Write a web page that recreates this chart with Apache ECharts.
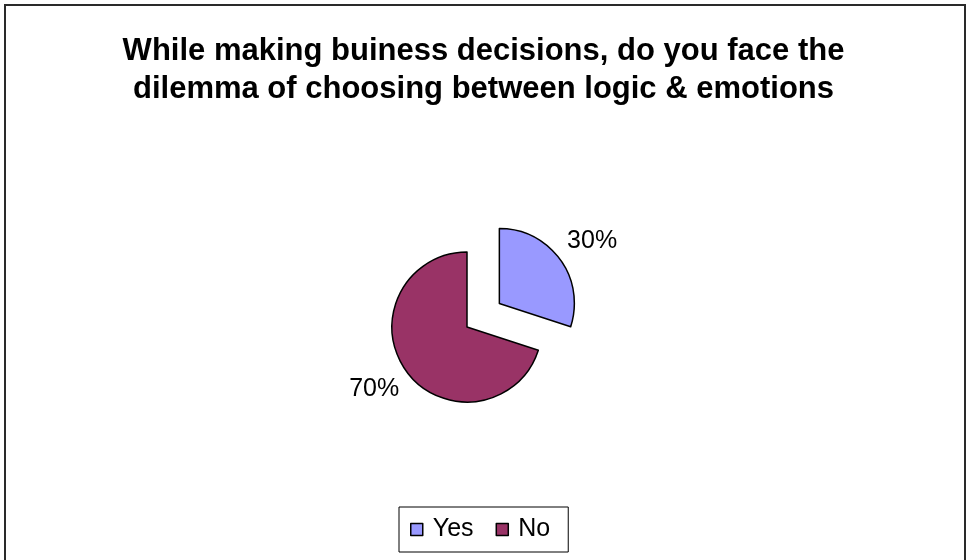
<!DOCTYPE html>
<html>
<head>
<meta charset="utf-8">
<title>Business decisions: logic vs emotions</title>
<script src="https://cdn.jsdelivr.net/npm/echarts@6/dist/echarts.min.js"></script>
<style>
  html, body { margin: 0; padding: 0; background: #ffffff; }
  #chart { width: 967px; height: 560px; }
</style>
</head>
<body>
<div id="chart"></div>
<script>
// Survey answers
const titleLines = [
  'While making buiness decisions, do you face the',
  'dilemma of choosing between logic & emotions'
];
const categories = ['Yes', 'No'];
const shares = [30, 70];          // percent of respondents
const sliceColors = ['#9999FF', '#993366'];
const explodedSlice = 'Yes';

const chart = echarts.init(document.getElementById('chart'), null, { renderer: 'canvas' });

const pieData = categories.map((name, i) => ({
  name: name,
  value: shares[i],
  selected: name === explodedSlice,
  itemStyle: { color: sliceColors[i] }
}));

const font = '"Liberation Sans", Arial, sans-serif';

chart.setOption({
  animation: false,
  backgroundColor: '#ffffff',
  graphic: [{
    type: 'rect',
    silent: true,
    shape: { x: 5, y: 5, width: 960, height: 600 },
    style: { fill: 'none', stroke: '#2a2a2a', lineWidth: 2 }
  }],
  title: {
    text: titleLines.join('\n'),
    left: 'center',
    top: 32,
    padding: [0, 0, 0, 10],
    textStyle: {
      fontFamily: font,
      fontWeight: 'bold',
      fontSize: 31,
      lineHeight: 38,
      color: '#000000'
    }
  },
  legend: {
    data: categories,
    left: 399,
    top: 507,
    orient: 'horizontal',
    icon: 'rect',
    itemWidth: 12,
    itemHeight: 12,
    itemGap: 22,
    padding: [10, 18, 10, 11],
    borderColor: '#000000',
    borderWidth: 1,
    backgroundColor: '#ffffff',
    selectedMode: false,
    itemStyle: { borderColor: '#000000', borderWidth: 1.5 },
    textStyle: {
      fontFamily: font,
      fontSize: 25,
      color: '#000000',
      padding: [0, 0, 0, 5]
    }
  },
  series: [{
    type: 'pie',
    center: [467, 327],
    radius: 75,
    startAngle: 90,
    clockwise: true,
    selectedMode: 'single',
    selectedOffset: 40,
    avoidLabelOverlap: false,
    silent: true,
    data: pieData,
    itemStyle: { borderColor: '#000000', borderWidth: 1.5 },
    select: { itemStyle: { borderColor: '#000000', borderWidth: 1.5 } },
    emphasis: { disabled: true },
    label: {
      show: true,
      position: 'outside',
      formatter: '{c}%',
      fontFamily: font,
      fontSize: 25,
      color: '#000000'
    },
    labelLine: { show: false, length: 31, length2: -23 }
  }]
});
</script>
</body>
</html>
